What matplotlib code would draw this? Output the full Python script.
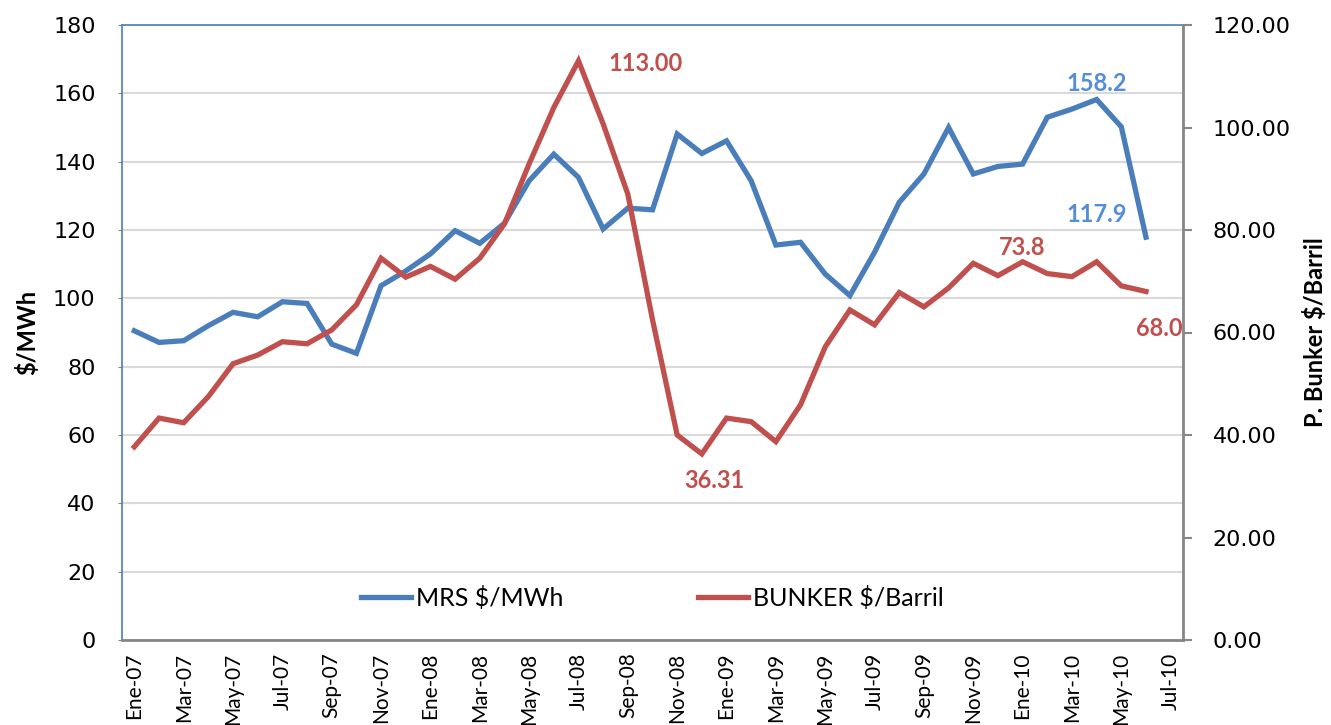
import matplotlib.pyplot as plt

plt.rcParams['font.family'] = ['Lato', 'DejaVu Sans']

months = ['Ene', 'Feb', 'Mar', 'Abr', 'May', 'Jun', 'Jul', 'Ago', 'Sep', 'Oct', 'Nov', 'Dic']
categories = [m + '-' + y for y in ['07', '08', '09', '10'] for m in months][:43]  # Ene-07 .. Jul-10

mrs = [90.5, 87.1, 87.6, 92.0, 95.9, 94.6, 99.0, 98.5, 86.6, 83.9,
       103.7, 108.0, 113.0, 119.8, 116.1, 122.0, 134.4, 142.2, 135.4, 120.3,
       126.4, 125.9, 148.1, 142.4, 146.1, 134.4, 115.6, 116.4, 107.1, 100.8,
       113.5, 128.1, 136.4, 150.0, 136.4, 138.6, 139.3, 153.0, 155.4, 158.2,
       150.2, 117.9]
bunker = [37.7, 43.3, 42.4, 47.5, 53.9, 55.6, 58.2, 57.8, 60.5, 65.4,
          74.5, 70.8, 72.9, 70.4, 74.5, 81.2, 92.9, 103.9, 113.0, 100.7,
          87.0, 62.5, 40.0, 36.31, 43.3, 42.6, 38.7, 45.9, 57.2, 64.4,
          61.5, 67.8, 65.0, 68.7, 73.5, 71.1, 73.8, 71.5, 70.9, 73.8,
          69.1, 68.0]

blue = '#4A7EBB'
red = '#C0504D'
blue_lbl = '#558ED5'

fig = plt.figure(figsize=(13.31, 7.25), dpi=100)
ax = fig.add_axes([122/1331, 1 - 640/725, (1183-122)/1331, (640-25)/725])
ax2 = ax.twinx()

x = list(range(len(mrs)))
l1, = ax.plot(x, mrs, color=blue, lw=3.8, label='MRS $/MWh', solid_joinstyle='miter')
l2, = ax2.plot(x, bunker, color=red, lw=3.8, label='BUNKER $/Barril', solid_joinstyle='miter')

ax.set_ylim(0, 180)
ax.set_yticks(range(0, 181, 20))
ax2.set_ylim(0, 120)
ax2.set_yticks(range(0, 121, 20))
ax2.set_yticklabels(['%.2f' % v for v in range(0, 121, 20)])
ax.set_xlim(-0.5, len(categories) - 0.5)
ax.set_xticks(range(0, len(categories), 2))
ax.set_xticklabels(categories[::2], rotation=90, fontsize=15)

for lbl in ax.get_yticklabels() + ax2.get_yticklabels():
    lbl.set_family('DejaVu Sans')

ax.yaxis.grid(True, color='#D9D9D9', lw=1.5)
ax.set_axisbelow(True)
ax.tick_params(axis='y', labelsize=16, length=3, color='#868686', pad=16)
ax.tick_params(axis='x', length=0, pad=9)
ax2.tick_params(axis='y', labelsize=16, length=6.5, color='#868686', width=1.5, pad=15)

for s in ['left', 'top']:
    ax.spines[s].set_color(blue)
    ax.spines[s].set_linewidth(1.2)
for s in ['left', 'top']:
    ax2.spines[s].set_visible(False)
ax.spines['right'].set_visible(False)
ax.spines['bottom'].set_color('#868686')
ax.spines['bottom'].set_linewidth(2)
ax2.spines['right'].set_color('#868686')
ax2.spines['right'].set_linewidth(2)
ax2.spines['bottom'].set_visible(False)

ax.set_ylabel('$/MWh', fontsize=17, fontweight='bold', labelpad=10)
ax2.set_ylabel('P. Bunker $/Barril', fontsize=17, fontweight='bold', labelpad=9)

# data labels
ax2.text(19.2, 112.5, '113.00', color=red, fontsize=17, fontweight='bold', va='center', ha='left')
ax2.text(23.5, 31.2, '36.31', color=red, fontsize=17, fontweight='bold', va='center', ha='center')
ax2.text(36.0, 76.5, '73.8', color=red, fontsize=17, fontweight='bold', va='center', ha='center')
ax2.text(42.5, 60.8, '68.0', color=red, fontsize=17, fontweight='bold', va='center', ha='right')
ax.text(39.0, 163.0, '158.2', color=blue_lbl, fontsize=17, fontweight='bold', va='center', ha='center')
ax.text(39.0, 124.4, '117.9', color=blue_lbl, fontsize=17, fontweight='bold', va='center', ha='center')

ax.legend(handles=[l1, l2], loc='center', bbox_to_anchor=(0.5, 0.068), ncol=2, frameon=False,
          fontsize=18, handlelength=2.0, handletextpad=0.2, columnspacing=5.4)

fig.savefig('out.png', dpi=100)
